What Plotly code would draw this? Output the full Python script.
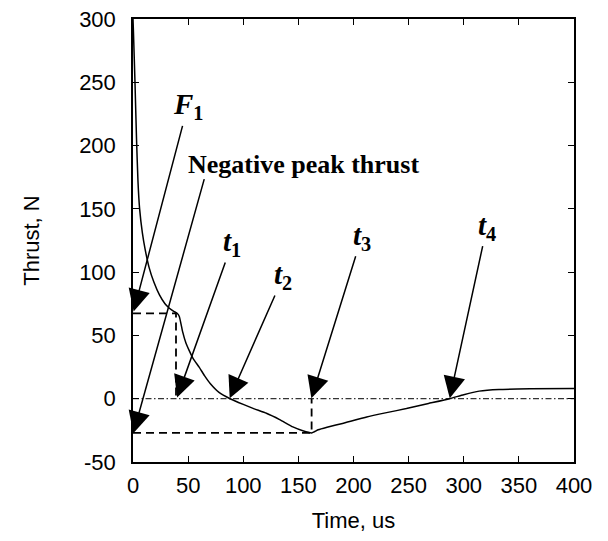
import plotly.graph_objects as go

# Thrust curve (time in us, thrust in N)
time_us = [0, 0.4, 1.8, 3.2, 4.5, 6, 8.5, 11, 14.5, 19, 24, 29, 33, 37, 40, 42, 45, 48, 51, 55, 60,
           65, 70, 78, 88, 100, 110, 121, 133, 145, 154, 162, 168, 176, 190, 212, 230, 248, 268,
           287, 300, 314, 332, 360, 400]
thrust_n = [300, 290, 250, 205, 172, 150, 131, 118, 104, 92, 82, 75, 71.5, 69, 67.5, 65, 53, 44, 38,
            31, 25, 18, 12, 5, 0, -4.5, -8, -11.5, -16.5, -22.3, -25.3, -27, -24.5, -22.5, -19.5,
            -14.4, -11, -7.8, -3.8, 0, 3.2, 6, 7.3, 7.8, 8.1]

# Characteristic values
F1 = 67.4
neg_peak = -27
t1, t2, t3, t4 = 39, 88, 162, 287
x_range = [0, 400]
y_range = [-50, 300]
x_ticks = [0, 50, 100, 150, 200, 250, 300, 350, 400]
x_ticktext = ["0", "50", "100", "150", "200", "250", "300", "350", "400"]
y_ticks = [-50, 0, 50, 100, 150, 200, 250, 300]
y_ticktext = ["-50", "0", "50", "100", "150", "200", "250", "300"]

# Labels with arrows: text, text centre (x, y), arrow tip (x, y)
pointer_labels = [
    ("<b><i>F</i></b><sub><b>1</b></sub>", 49.6, 231, 0.6, 69),
    ("<b><i>t</i></b><sub><b>1</b></sub>", 90, 123, 40, 1),
    ("<b><i>t</i></b><sub><b>2</b></sub>", 136.5, 97, 87.7, 0.4),
    ("<b><i>t</i></b><sub><b>3</b></sub>", 207.5, 128, 161.8, 0.4),
    ("<b><i>t</i></b><sub><b>4</b></sub>", 321, 136, 287.3, 0.4),
]
neg_label = ("<b>Negative peak thrust</b>", 154.2, 185)
neg_arrow = (65, 174.7, 0.3, -27.3)  # tail x, tail y, tip x, tip y

fig = go.Figure()

# zero reference line
fig.add_trace(go.Scatter(x=x_range, y=[0, 0], mode="lines",
                         line=dict(color="black", width=1, dash="6px,2.5px,1.5px,2.5px"),
                         hoverinfo="skip", showlegend=False))
# F1 dashed guides
fig.add_trace(go.Scatter(x=[0, t1, t1], y=[F1, F1, 0], mode="lines",
                         line=dict(color="black", width=1.8, dash="8px,5px"),
                         hoverinfo="skip", showlegend=False))
# negative peak dashed guides
fig.add_trace(go.Scatter(x=[0, t3, t3], y=[neg_peak, neg_peak, 0], mode="lines",
                         line=dict(color="black", width=1.8, dash="8px,5px"),
                         hoverinfo="skip", showlegend=False))
# thrust curve
fig.add_trace(go.Scatter(x=time_us, y=thrust_n, mode="lines",
                         line=dict(color="black", width=1.5, shape="spline", smoothing=0.4),
                         showlegend=False))

arrow_style = dict(showarrow=True, arrowhead=2, arrowsize=2.9, arrowwidth=1.5,
                   arrowcolor="black", standoff=0)

for txt, lx, ly, hx, hy in pointer_labels:
    fig.add_annotation(x=hx, y=hy, ax=lx, ay=ly, xref="x", yref="y", axref="x", ayref="y",
                       text=txt, font=dict(family="Liberation Serif", size=29, color="black"),
                       **arrow_style)

fig.add_annotation(x=neg_arrow[2], y=neg_arrow[3], ax=neg_arrow[0], ay=neg_arrow[1],
                   xref="x", yref="y", axref="x", ayref="y", text="", **arrow_style)
fig.add_annotation(x=neg_label[1], y=neg_label[2], xref="x", yref="y", text=neg_label[0],
                   showarrow=False, xanchor="center", yanchor="middle",
                   font=dict(family="Liberation Serif", size=26, color="black"))

axis_common = dict(showline=True, linecolor="black", linewidth=1.5, mirror="ticks",
                   ticks="inside", ticklen=6, tickwidth=1, tickcolor="black",
                   showgrid=False, zeroline=False, ticklabeloverflow="allow",
                   tickfont=dict(family="Liberation Sans", size=22, color="black"))

fig.update_xaxes(range=x_range, tickvals=x_ticks, ticktext=x_ticktext, ticklabelstandoff=3,
                 title=dict(text="Time, us", font=dict(family="Liberation Sans", size=22, color="black"),
                            standoff=25),
                 **axis_common)
fig.update_yaxes(range=y_range, tickvals=y_ticks, ticktext=y_ticktext, ticklabelstandoff=11,
                 title=dict(text="Thrust, N", font=dict(family="Liberation Sans", size=22, color="black"),
                            standoff=33),
                 **axis_common)

fig.update_layout(width=592, height=525,
                  margin=dict(l=125, r=26, t=11, b=71, autoexpand=False),
                  plot_bgcolor="white", paper_bgcolor="white")

fig.write_html("out.html")
